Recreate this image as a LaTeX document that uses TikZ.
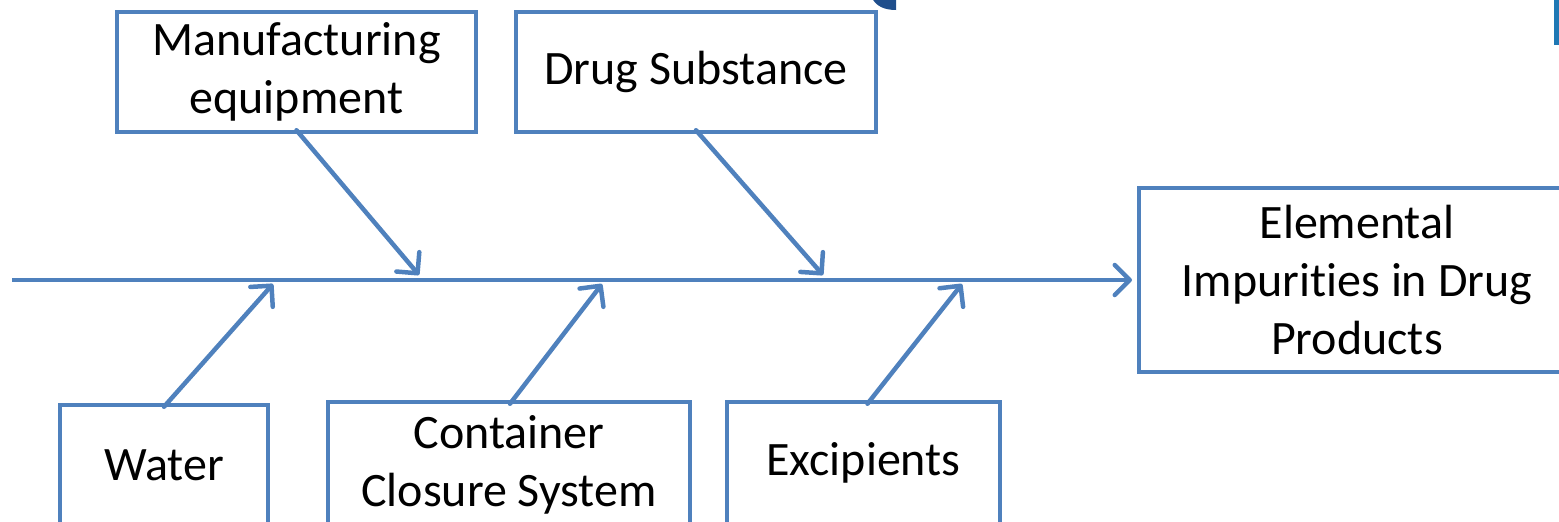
\documentclass[tikz,border=0pt]{standalone}
\usepackage{fontspec}
\setmainfont{Carlito}[Ligatures=NoCommon]
\usetikzlibrary{arrows.meta}
\definecolor{bone}{HTML}{4F81BD}
\definecolor{darkblob}{HTML}{1F4E8C}
\definecolor{edgebar}{HTML}{1F78B4}
\tikzset{
  box/.style={draw=bone, line width=4.5pt, fill=white, rectangle, inner sep=0pt, align=center,
    font=\fontsize{48}{58}\selectfont},
  bonearrow/.style={draw=bone, line width=4.5pt, line cap=round,
    -{Straight Barb[length=15pt,width=30pt,line cap=round,line join=round]}},
}
\begin{document}
\begin{tikzpicture}[x=1pt,y=-1pt]
\useasboundingbox (0,0) rectangle (1559,522);
\begin{scope}
\clip (0,0) rectangle (1559,522);
% small artifacts at the top edge
\fill[darkblob] (872,-2) .. controls (876,6) and (884,10) .. (896,10) -- (896,-2) -- cycle;
\fill[edgebar] (1554,-2) rectangle (1562,45);

\node[box, minimum width=359pt, minimum height=120pt] (mfg) at (296.5,72) {Manufacturing\\equipment};
\node[box, minimum width=360pt, minimum height=120pt] (drug) at (696,72) {Drug Substance};
\node[box, minimum width=436pt, minimum height=184pt] (prod) at (1357,280) {Elemental\\Impurities in Drug\\Products};
\node[box, minimum width=208pt, minimum height=120pt] (water) at (164,465) {Water};
\node[box, minimum width=362pt, minimum height=126pt] (ccs) at (509,465) {Container\\Closure System};
\node[box, minimum width=273pt, minimum height=122pt] (exc) at (863.5,463) {Excipients};

\coordinate (tail) at (12,280);
\coordinate (head) at (1132,280);
\coordinate (m1) at (419,275);
\coordinate (d1) at (823,275);
\coordinate (w1) at (273,284);
\coordinate (c1) at (602,284);
\coordinate (e1) at (962,284);

\draw[bonearrow, line cap=butt] (tail) -- (head);
\draw[bonearrow] ([yshift=4pt]mfg.south) -- (m1);
\draw[bonearrow] ([yshift=4pt]drug.south) -- (d1);
\draw[bonearrow] ([yshift=-4pt]water.north) -- (w1);
\draw[bonearrow] ([xshift=1pt,yshift=-4pt]ccs.north) -- (c1);
\draw[bonearrow] ([xshift=4pt,yshift=-4pt]exc.north) -- (e1);
\end{scope}
\end{tikzpicture}
\end{document}
